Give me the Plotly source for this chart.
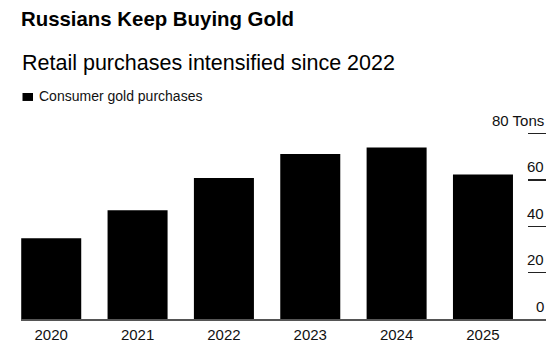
import plotly.graph_objects as go

years = ["2020", "2021", "2022", "2023", "2024", "2025"]
purchases = [34.8, 46.9, 60.8, 71.2, 74.0, 62.4]
tick_vals = [0, 20, 40, 60, 80]
tick_text = ["0", "20", "40", "60", "80 Tons"]

title = "Russians Keep Buying Gold"
subtitle = "Retail purchases intensified since 2022"
series_name = "Consumer gold purchases"

W, H = 558, 356
L, R, T, B = 21, 12, 128.6, 37
plot_h = H - T - B
plot_w = W - L - R
FONT = "Liberation Sans, Arial, Helvetica, sans-serif"


def py(p):
    return (H - B - p) / plot_h


def px(p):
    return (p - L) / plot_w


fig = go.Figure(
    go.Bar(
        x=years,
        y=purchases,
        name=series_name,
        marker=dict(color="#000000", line=dict(width=0)),
        showlegend=False,
        hoverinfo="skip",
    )
)

fig.update_layout(
    width=W,
    height=H,
    margin=dict(l=L, r=R, t=T, b=B),
    paper_bgcolor="white",
    plot_bgcolor="white",
    bargap=0.305,
    font=dict(family=FONT, color="#000000"),
    title=dict(
        text="<b>" + title + "</b>",
        font=dict(size=20.4, color="#000000", family=FONT),
        x=L / W,
        xanchor="left",
        xref="container",
        yref="container",
        y=1 - 19 / H,
        yanchor="middle",
    ),
)

fig.update_xaxes(
    type="category",
    range=[-0.35, 5.73],
    showgrid=False,
    zeroline=False,
    showline=True,
    linecolor="#555555",
    linewidth=1.5,
    ticks="outside",
    ticklen=1,
    tickcolor="rgba(0,0,0,0)",
    tickfont=dict(size=15, color="#111111"),
    fixedrange=True,
)

fig.update_yaxes(
    side="right",
    range=[0, 82],
    tickvals=tick_vals,
    showticklabels=False,
    showgrid=False,
    zeroline=False,
    showline=False,
    ticks="inside",
    ticklen=18,
    tickwidth=1.5,
    tickcolor="#222222",
    fixedrange=True,
)

for v, t in zip(tick_vals, tick_text):
    fig.add_annotation(
        text=t,
        xref="paper", yref="y",
        x=1, y=v,
        xanchor="right", yanchor="middle",
        yshift=13,
        showarrow=False,
        font=dict(size=15, color="#111111", family=FONT),
    )

fig.add_annotation(
    text=subtitle,
    xref="paper", yref="paper",
    x=px(20), y=py(62),
    xanchor="left", yanchor="middle",
    showarrow=False,
    font=dict(size=21.5, color="#000000", family=FONT),
)

fig.add_shape(
    type="rect",
    xref="paper", yref="paper",
    x0=px(22.5), x1=px(33), y0=py(100.5), y1=py(92.5),
    fillcolor="#000000", line=dict(width=0),
)

fig.add_annotation(
    text=series_name,
    xref="paper", yref="paper",
    x=px(37), y=py(96),
    xanchor="left", yanchor="middle",
    showarrow=False,
    font=dict(size=14, color="#111111", family=FONT),
)

fig.write_html(
    "out.html",
    config={"displayModeBar": False, "staticPlot": True},
    post_script="document.body.style.margin='0';",
)
